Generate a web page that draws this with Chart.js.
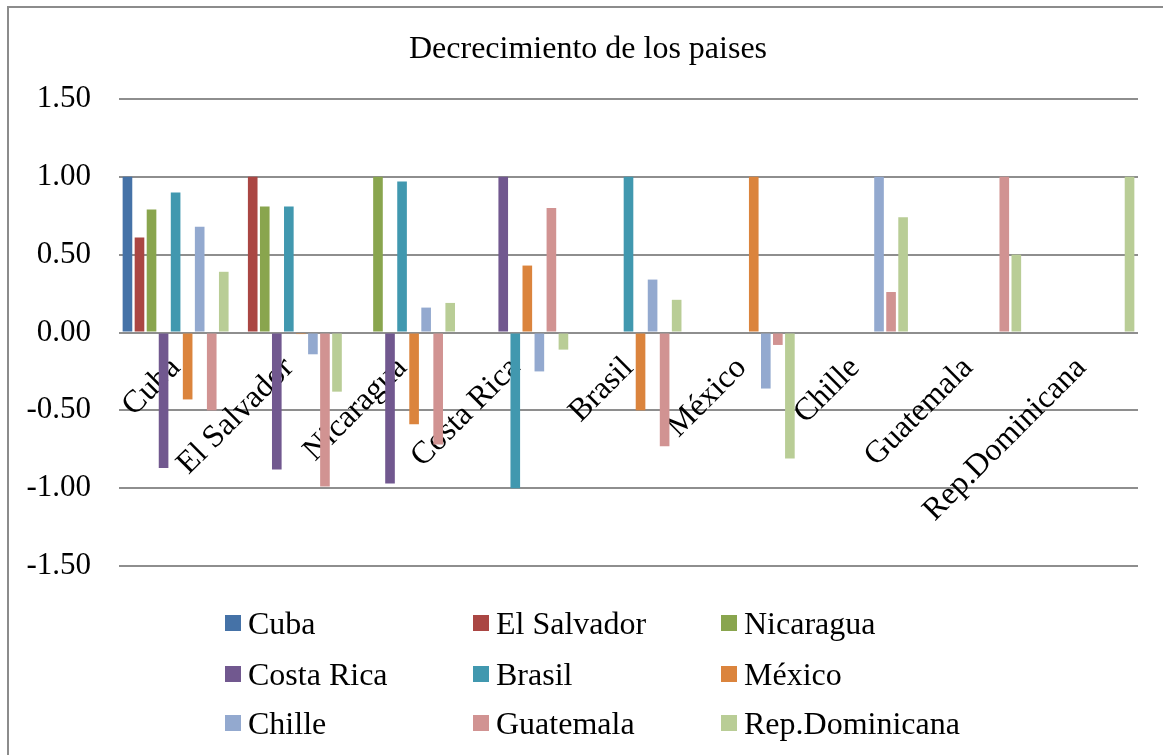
<!DOCTYPE html>
<html>
<head>
<meta charset="utf-8">
<script src="https://cdn.jsdelivr.net/npm/chart.js@4.4.1/dist/chart.umd.min.js"></script>
<style>
  html, body { margin: 0; padding: 0; background: #fff; overflow: hidden; }
  #frame { position: absolute; left: 7px; top: 6px; width: 1200px; height: 800px; border: 2px solid #8c8c8c; box-sizing: border-box; }
  #wrap { position: absolute; left: 0; top: 0; width: 1163px; height: 755px; }
  #titulo { position: absolute; left: 0; top: 28px; width: 1176px; text-align: center; font-family: 'Liberation Serif', serif; font-size: 32px; line-height: 38px; color: #000; }
  #legend { position: absolute; left: 0; top: 0; width: 1163px; height: 755px; pointer-events: none; font-family: 'Liberation Serif', serif; font-size: 32px; color: #000; }
  .item { position: absolute; display: flex; align-items: center; height: 40px; line-height: 40px; white-space: nowrap; }
  .box { width: 16px; height: 16px; margin-right: 7px; }
</style>
</head>
<body>
<div id="frame"></div>
<div id="wrap"><canvas id="chart" width="1163" height="755"></canvas></div>
<div id="titulo">Decrecimiento de los paises</div>
<div id="legend"></div>
<script>
// paises (categorias y series)
const paises = ['Cuba', 'El Salvador', 'Nicaragua', 'Costa Rica', 'Brasil', 'México', 'Chille', 'Guatemala', 'Rep.Dominicana'];
const colores = ['#4572A7', '#AA4643', '#89A54E', '#71588F', '#4198AF', '#DB843D', '#93A9CF', '#D19392', '#B9CD96'];

// valores de cada serie por categoria (null = sin barra)
const cuba       = [1.00, null, null, null, null, null, null, null, null];
const elSalvador = [0.61, 1.00, null, null, null, null, null, null, null];
const nicaragua  = [0.79, 0.81, 1.00, null, null, null, null, null, null];
const costaRica  = [-0.87, -0.88, -0.97, 1.00, null, null, null, null, null];
const brasil     = [0.90, 0.81, 0.97, -1.00, 1.00, null, null, null, null];
const mexico     = [-0.43, -0.01, -0.59, 0.43, -0.50, 1.00, null, null, null];
const chille     = [0.68, -0.14, 0.16, -0.25, 0.34, -0.36, 1.00, null, null];
const guatemala  = [-0.50, -0.99, -0.72, 0.80, -0.73, -0.08, 0.26, 1.00, null];
const repDom     = [0.39, -0.38, 0.19, -0.11, 0.21, -0.81, 0.74, 0.50, 1.00];

const series = [cuba, elSalvador, nicaragua, costaRica, brasil, mexico, chille, guatemala, repDom];

const yMin = -1.5, yMax = 1.5, yStep = 0.5;

Chart.defaults.font.family = "'Liberation Serif', 'Times New Roman', serif";
Chart.defaults.color = '#000';

const grid = '#8e8e8e';

new Chart(document.getElementById('chart').getContext('2d'), {
    type: 'bar',
    data: {
        labels: paises,
        datasets: series.map((vals, i) => ({
            label: paises[i],
            data: vals,
            backgroundColor: colores[i],
            borderWidth: 0,
            barPercentage: 0.8,
            categoryPercentage: 0.957
        }))
    },
    options: {
        responsive: false,
        animation: false,
        layout: { padding: { left: 0, right: 25, top: 99, bottom: 189 } },
        plugins: {
            legend: { display: false },
            tooltip: { enabled: false },
            title: { display: false }
        },
        scales: {
            x: {
                position: { y: 0 },
                z: 1,
                grid: { display: false, drawTicks: false },
                border: { display: false },
                ticks: {
                    minRotation: 45,
                    maxRotation: 45,
                    padding: 17,
                    autoSkip: false,
                    font: { size: 32 },
                    color: '#000'
                }
            },
            y: {
                min: yMin,
                max: yMax,
                afterFit: (scale) => { scale.width = 119; },
                grid: { color: grid, lineWidth: 2, drawTicks: false },
                border: { display: false },
                ticks: {
                    stepSize: yStep,
                    padding: 28,
                    font: { size: 31 },
                    color: '#000',
                    callback: (v) => v.toFixed(2)
                }
            }
        }
    }
});

// leyenda en 3 columnas
const legend = document.getElementById('legend');
const colX = [225, 473, 721];
const rowY = [623, 674, 723];
paises.forEach((p, i) => {
    const it = document.createElement('div');
    it.className = 'item';
    it.style.left = colX[i % 3] + 'px';
    it.style.top = (rowY[Math.floor(i / 3)] - 20) + 'px';
    const b = document.createElement('span');
    b.className = 'box';
    b.style.background = colores[i];
    const t = document.createElement('span');
    t.textContent = p;
    it.appendChild(b);
    it.appendChild(t);
    legend.appendChild(it);
});
</script>
</body>
</html>
